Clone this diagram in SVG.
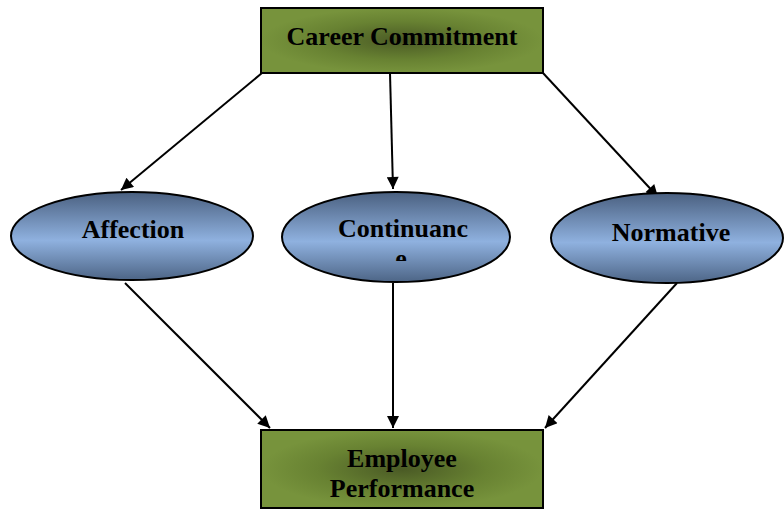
<svg xmlns="http://www.w3.org/2000/svg" width="784" height="510" viewBox="0 0 784 510">
<style>
.box{fill:url(#gG);stroke:#000;stroke-width:2}
.ell{fill:url(#gB);stroke:#000;stroke-width:2}
.t{font-family:"Liberation Serif",serif;font-weight:bold;font-size:26px;fill:#000;text-anchor:middle}
.c{stroke:#000;stroke-width:2;fill:none;marker-end:url(#ah)}
</style>
<defs>
<radialGradient id="gG" cx="0.5" cy="0.5" r="0.5">
<stop offset="0" stop-color="#4a5a25"/>
<stop offset="0.6" stop-color="#688232"/>
<stop offset="1" stop-color="#77933c"/>
</radialGradient>
<linearGradient id="gB" x1="0" y1="0" x2="0" y2="1">
<stop offset="0" stop-color="#4a6080"/>
<stop offset="0.55" stop-color="#8fb1df"/>
<stop offset="1" stop-color="#4d6586"/>
</linearGradient>
<marker id="ah" viewBox="0 0 10 10" refX="10" refY="5" markerWidth="7" markerHeight="6" orient="auto" markerUnits="strokeWidth">
<path d="M0,0 L10,5 L0,10 z" fill="#000"/>
</marker>
<clipPath id="cl"><rect x="282" y="195" width="230" height="66"/></clipPath>
</defs>
<g id="connectors">
<line class="c" x1="262" y1="73" x2="121" y2="190"/>
<line class="c" x1="390" y1="73" x2="393" y2="189"/>
<line class="c" x1="543" y1="73" x2="658" y2="197"/>
<line class="c" x1="125" y1="283" x2="270" y2="428"/>
<line class="c" x1="393" y1="283" x2="393" y2="428"/>
<line class="c" x1="677" y1="283" x2="545" y2="428"/>
</g>
<g id="career">
<rect class="box" x="261" y="8" width="282" height="65"/>
<text class="t" x="402" y="45">Career Commitment</text>
</g>
<g id="affection">
<ellipse class="ell" cx="132" cy="236" rx="121" ry="44"/>
<text class="t" x="133" y="238">Affection</text>
</g>
<g id="continuance">
<ellipse class="ell" cx="396" cy="237" rx="114" ry="45"/>
<g clip-path="url(#cl)">
<text class="t" x="403" y="237">Continuanc</text>
<text class="t" x="401" y="267">e</text>
</g>
</g>
<g id="normative">
<ellipse class="ell" cx="667" cy="238" rx="116" ry="45"/>
<text class="t" x="671" y="241">Normative</text>
</g>
<g id="performance">
<rect class="box" x="261" y="430" width="282" height="78"/>
<text class="t" x="402" y="467">Employee</text>
<text class="t" x="402" y="497">Performance</text>
</g>
</svg>
